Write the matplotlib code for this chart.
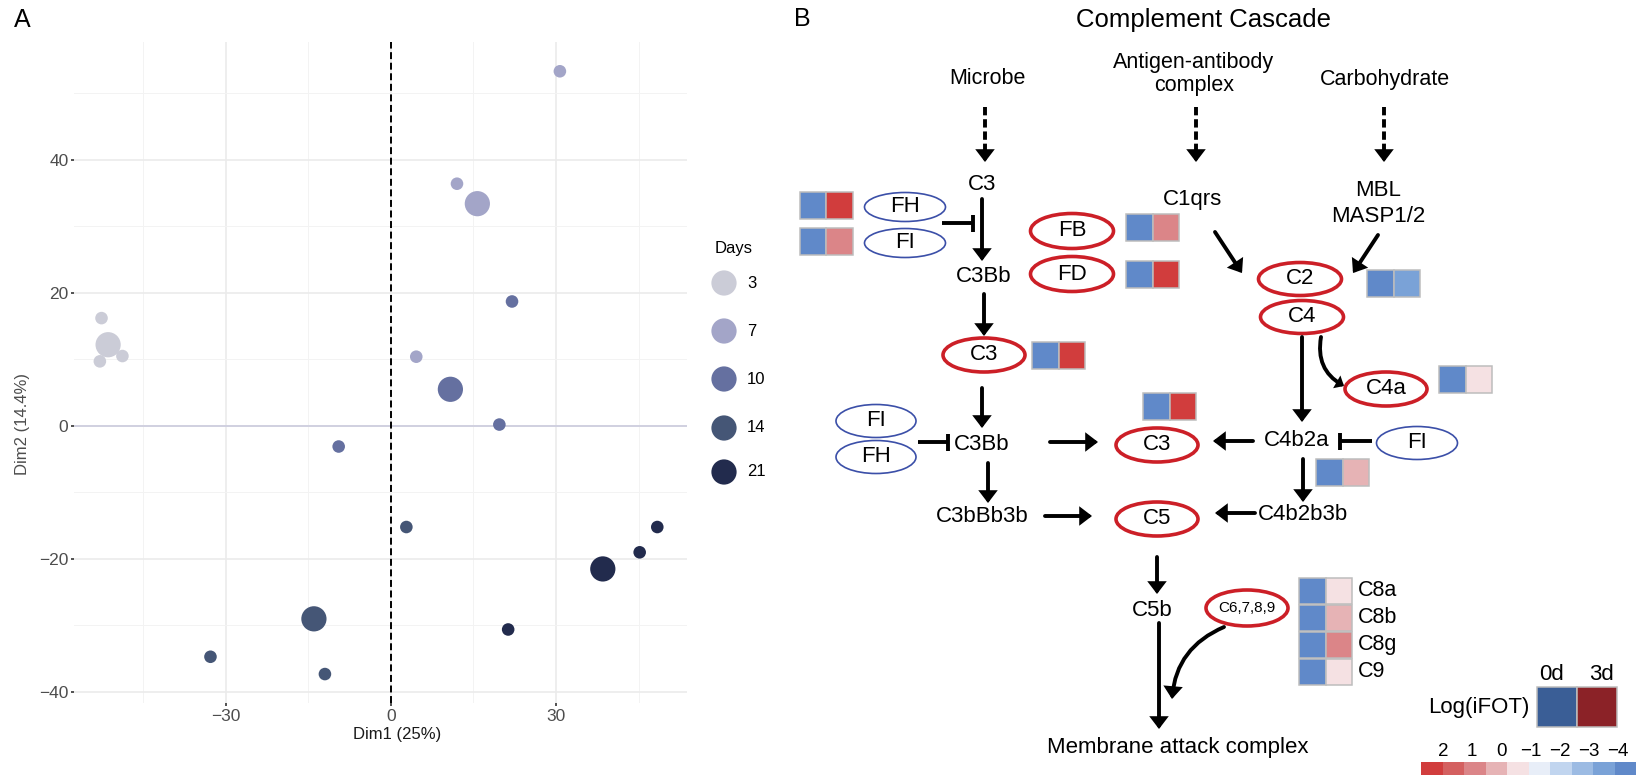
import matplotlib
matplotlib.use("Agg")
import matplotlib.pyplot as plt
from matplotlib.patches import Ellipse, Rectangle, FancyArrowPatch
import numpy as np

plt.rcParams['lines.scale_dashes'] = False
SANS = ['Liberation Sans', 'DejaVu Sans']
NARROW = ['Liberation Sans Narrow', 'Liberation Sans', 'DejaVu Sans']

# ---------------- data: panel A (PCA individuals) ----------------
days = [3, 7, 10, 14, 21]
day_colors = ['#CBCCD7', '#A3A5C8', '#6570A0', '#455676', '#222B4D']
ind_day = [3, 3, 3, 7, 7, 7, 10, 10, 10, 14, 14, 14, 21, 21, 21]
ind_dim1 = [-52.6, -52.9, -48.8, 30.7, 12.0, 4.6, 22.0, 19.7, -9.5, 2.8, -32.8, -12.0, 48.4, 45.2, 21.3]
ind_dim2 = [16.2, 9.7, 10.5, 53.3, 36.4, 10.4, 18.7, 0.2, -3.1, -15.2, -34.7, -37.3, -15.2, -19.0, -30.6]
mean_dim1 = [-51.4, 15.7, 10.8, -14.0, 38.5]
mean_dim2 = [12.2, 33.4, 5.5, -29.0, -21.5]
x_ticks = [-30, 0, 30]
y_ticks = [-40, -20, 0, 20, 40]

# ---------------- data: panel B (log iFOT heat cells) ----------------
hm_names = ['FH', 'FI', 'FB', 'FD', 'C3', 'C3b', 'C2C4', 'C4a', 'C4b2a', 'C8a', 'C8b', 'C8g', 'C9']
hm_0d = [-4.2, -4.2, -4.2, -4.2, -4.2, -4.2, -4.2, -4.2, -4.2, -4.2, -4.2, -4.2, -4.2]
hm_3d = [2.4, 0.9, 0.9, 2.4, 2.4, 2.4, -3.5, -0.5, 0.2, -0.5, 0.2, 0.9, -0.5]
cbar_colors = ['#6089C9', '#7AA2D7', '#9CBBE3', '#C1D5EF', '#E8EEF8',
               '#F5E1E3', '#E6B3B5', '#DB8588', '#D46060', '#D13D3D']
cbar_lo, cbar_hi = -4.61, 2.75
cbar_ticks = [2, 1, 0, -1, -2, -3, -4]

def val_color(v):
    n = len(cbar_colors)
    i = int((v - cbar_lo) / (cbar_hi - cbar_lo) * n)
    return cbar_colors[min(max(i, 0), n - 1)]

W, H = 1637, 780
fig = plt.figure(figsize=(W / 100, H / 100), dpi=100)

# ---------------- Panel A ----------------
ax = fig.add_axes([74 / W, 1 - 703 / H, (687 - 74) / W, (703 - 42) / H])
ax.set_xlim(-57.6, 53.8)
ax.set_ylim(-41.65, 57.7)
for s in ax.spines.values():
    s.set_visible(False)
ax.set_xticks(x_ticks)
ax.set_yticks(y_ticks)
ax.set_xticks([-45, -15, 15, 45], minor=True)
ax.set_yticks([-30, -10, 10, 30, 50], minor=True)
ax.grid(which='major', color='#EBEBEB', lw=1.2, zorder=0)
ax.grid(which='minor', color='#F3F3F3', lw=0.7, zorder=0)
ax.set_axisbelow(True)
ax.tick_params(which='minor', length=0)
ax.tick_params(which='major', length=2.5, width=1.2, color='#333333',
               labelcolor='#4D4D4D', labelsize=12.5, pad=1.5)
for lab in ax.get_xticklabels() + ax.get_yticklabels():
    lab.set_family(NARROW)
ax.axhline(0, color='#C9C9DD', lw=1.1, zorder=1)
ax.axvline(0, color='black', lw=1.4, ls=(0, (5, 2.6)), zorder=2)
cmap_day = dict(zip(days, day_colors))
ax.scatter(ind_dim1, ind_dim2, s=82, c=[cmap_day[d] for d in ind_day], linewidths=0, zorder=3)
ax.scatter(mean_dim1, mean_dim2, s=330, c=day_colors, linewidths=0, zorder=3)

# ---------------- overlay in pixel coordinates ----------------
ov = fig.add_axes([0, 0, 1, 1])
ov.set_xlim(0, W)
ov.set_ylim(H, 0)
ov.axis('off')

def txt(x, y, s, size=16, ha='center', va='center', family=SANS, color='black', **kw):
    ov.text(x, y, s, fontsize=size, ha=ha, va=va, family=family, color=color, **kw)

# panel A texts
txt(22, 20, 'A', size=18)
txt(397, 734, 'Dim1 (25%)', size=12, family=NARROW, color='#1A1A1A')
txt(23, 424, 'Dim2 (14.4%)', size=12, family=NARROW, color='#4D4D4D', rotation=90)
txt(715, 248, 'Days', size=12, ha='left')
leg_y = [283, 331, 379, 428, 472]
ov.scatter([724] * 5, leg_y, s=330, c=day_colors, linewidths=0)
for yy, d in zip(leg_y, days):
    txt(747, yy, str(d), size=12, ha='left')

# panel B helpers
def arrow(x0, y0, x1, y1, rad=0.0, lw=2.8, hl=0.55, hw=0.42):
    ov.add_patch(FancyArrowPatch((x0, y0), (x1, y1),
                 arrowstyle=f'-|>,head_length={hl},head_width={hw}', mutation_scale=10,
                 lw=lw, color='black', shrinkA=0, shrinkB=0,
                 connectionstyle=f'arc3,rad={rad}', joinstyle='miter'))

def dashed_arrow(x, y0, y1):
    ov.plot([x, x], [y0, y1 - 8], color='black', lw=2.8, ls=(0, (6, 2.8)), solid_capstyle='butt')
    arrow(x, y1 - 9, x, y1)

def inhibit(x0, x1, y, bar=8.5):
    ov.plot([x0, x1], [y, y], color='black', lw=2.8, solid_capstyle='butt')
    ov.plot([x1, x1], [y - bar, y + bar], color='black', lw=2.8, solid_capstyle='butt')

def node(x, y, label, kind='red', w=82, h=34, size=16):
    if kind == 'red':
        e = Ellipse((x, y), w, h, fill=False, ec='#CC1F27', lw=2.6)
    else:
        e = Ellipse((x, y), w, h, fill=False, ec='#3B4FA8', lw=1.2)
    ov.add_patch(e)
    txt(x, y, label, size=size)

hm_pos = {'FH': (799.5, 192), 'FI': (799.5, 228), 'FB': (1126, 214), 'FD': (1126, 261),
          'C3': (1032, 342), 'C3b': (1143, 393), 'C2C4': (1367, 270), 'C4a': (1439, 366),
          'C4b2a': (1316, 459), 'C8a': (1299, 577.5), 'C8b': (1299, 604.5),
          'C8g': (1299, 631.5), 'C9': (1299, 658.5)}
CS = 26.7
for name, v0, v3 in zip(hm_names, hm_0d, hm_3d):
    x, y = hm_pos[name]
    for j, v in enumerate([v0, v3]):
        ov.add_patch(Rectangle((x + j * CS, y), CS, CS, fc=val_color(v), ec='#BDBDBD', lw=1.1))
for name in ['C8a', 'C8b', 'C8g', 'C9']:
    x, y = hm_pos[name]
    txt(1358, y + CS / 2, name, size=15.5, ha='left')

txt(802, 19, 'B', size=18)
txt(1203, 20, 'Complement Cascade', size=18.5)
txt(987, 79, 'Microbe', size=15.5)
txt(1194, 74, 'Antigen-antibody\ncomplex', size=15.5, linespacing=1.15)
txt(1385, 79, 'Carbohydrate', size=15.5)
dashed_arrow(985, 107, 162)
dashed_arrow(1196, 107, 162)
dashed_arrow(1384, 107, 162)

# alternative pathway
txt(982, 185, 'C3')
arrow(982, 199, 982, 261)
node(905, 207, 'FH', 'blue', w=81, h=29)
node(905, 243, 'FI', 'blue', w=81, h=29)
inhibit(942, 973, 223)
txt(984, 276, 'C3Bb')
node(1072, 231, 'FB', 'red', w=83, h=35)
node(1072, 274, 'FD', 'red', w=83, h=35)
arrow(984, 294, 984, 336)
node(984, 355, 'C3', 'red')
arrow(982, 388, 982, 428)
node(876, 421, 'FI', 'blue', w=80, h=33)
node(876, 457, 'FH', 'blue', w=80, h=33)
inhibit(918, 948, 442)
txt(982, 445, 'C3Bb')
arrow(1050, 442, 1098, 442)
node(1157, 445, 'C3', 'red')
arrow(988, 463, 988, 503)
txt(982, 516, 'C3bBb3b')
arrow(1045, 516, 1092, 516)
node(1157, 519, 'C5', 'red')

# classical / lectin pathway
txt(1192, 200, 'C1qrs')
txt(1378, 190, 'MBL')
txt(1378, 217, 'MASP1/2')
arrow(1215, 232, 1242, 273)
arrow(1378, 235, 1353, 273)
node(1300, 279, 'C2', 'red', w=83, h=33)
node(1302, 317, 'C4', 'red', w=83, h=33)
arrow(1302, 337, 1302, 422)
arrow(1321, 337, 1344, 386, rad=0.35, hl=0.25, hw=0.22)
node(1386, 389, 'C4a', 'red')
txt(1297, 441, 'C4b2a')
arrow(1253, 441, 1213, 441)
inhibit(1372, 1340, 441)
node(1417, 443, 'FI', 'blue', w=81, h=33)
arrow(1303, 459, 1303, 502)
txt(1303, 515, 'C4b2b3b')
arrow(1255, 513, 1215, 513)

# terminal pathway
arrow(1157, 557, 1157, 594)
txt(1152, 610, 'C5b')
arrow(1159, 623, 1159, 729)
txt(1178, 748, 'Membrane attack complex')
node(1247, 608, 'C6,7,8,9', 'red', w=82, h=36, size=11)
arrow(1224, 627, 1172, 699, rad=0.3)

# Log(iFOT) key
txt(1551, 675, '0d', size=16)
txt(1601, 675, '3d', size=16)
txt(1530, 707, 'Log(iFOT)', size=16, ha='right')
ov.add_patch(Rectangle((1537, 687), 40, 40, fc='#3A5E96', ec='#BDBDBD', lw=1.1))
ov.add_patch(Rectangle((1577, 687), 40, 40, fc='#8B2227', ec='#BDBDBD', lw=1.1))

# colour bar
cb_x0, cb_x1 = 1421, 1636
def cb_x(v):
    return cb_x0 + (cbar_hi - v) / (cbar_hi - cbar_lo) * (cb_x1 - cb_x0)
n = len(cbar_colors)
step = (cbar_hi - cbar_lo) / n
for i, c in enumerate(cbar_colors):
    vhi = cbar_lo + (i + 1) * step
    vlo = cbar_lo + i * step
    ov.add_patch(Rectangle((cb_x(vhi), 762), cb_x(vlo) - cb_x(vhi), 13, fc=c, ec='none'))
for t in cbar_ticks:
    txt(cb_x(t), 752, str(t).replace('-', '\u2212'), size=13.5)

fig.savefig('out.png', dpi=100)
